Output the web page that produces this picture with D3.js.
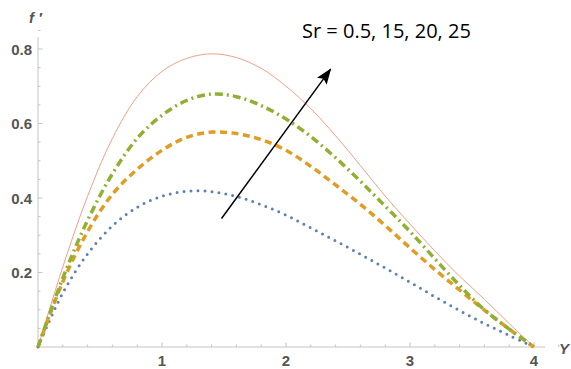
<!DOCTYPE html>
<html>
<head>
<meta charset="utf-8">
<script src="https://cdn.jsdelivr.net/npm/d3@7"></script>
<style>
  html, body { margin: 0; padding: 0; background: #fff; }
  svg { display: block; }
</style>
</head>
<body>
<svg id="chart" width="571" height="369"></svg>
<script>
// Velocity profiles f'(Y) for increasing Sr
const yGrid = [0, 0.2, 0.4, 0.6, 0.8, 1.0, 1.2, 1.4, 1.6, 1.8, 2.0, 2.2, 2.4, 2.6, 2.8, 3.0, 3.2, 3.4, 3.6, 3.8, 4.0];
const sr05 = [0, 0.145, 0.25, 0.325, 0.375, 0.405, 0.418, 0.417, 0.404, 0.382, 0.354, 0.32, 0.285, 0.249, 0.212, 0.174, 0.135, 0.098, 0.063, 0.031, 0];
const sr15 = [0, 0.175, 0.31, 0.41, 0.477, 0.528, 0.563, 0.577, 0.573, 0.557, 0.528, 0.485, 0.435, 0.383, 0.326, 0.266, 0.208, 0.153, 0.099, 0.048, 0];
const sr20 = [0, 0.185, 0.34, 0.465, 0.56, 0.622, 0.662, 0.679, 0.672, 0.648, 0.612, 0.565, 0.508, 0.445, 0.378, 0.31, 0.237, 0.165, 0.1, 0.048, 0];
const sr25 = [0, 0.215, 0.405, 0.56, 0.672, 0.74, 0.775, 0.787, 0.777, 0.748, 0.70, 0.64, 0.567, 0.487, 0.405, 0.33, 0.258, 0.19, 0.128, 0.063, 0];
const xTicks = [1, 2, 3, 4];
const yTicks = [0.2, 0.4, 0.6, 0.8];
const annotation = "Sr = 0.5, 15, 20, 25";

const svg = d3.select("#chart");
const x = d3.scaleLinear().domain([0, 4]).range([38, 534]);
const y = d3.scaleLinear().domain([0, 0.8]).range([347, 49]);

const axisColor = "#c4c4c4";
const labelColor = "#555";
const labelFont = "Liberation Sans, Arial, sans-serif";

// axis lines
svg.append("line").attr("x1", x(0)).attr("x2", 545).attr("y1", y(0)).attr("y2", y(0))
  .attr("stroke", axisColor).attr("stroke-width", 1);
svg.append("line").attr("x1", x(0)).attr("x2", x(0)).attr("y1", y(0)).attr("y2", 37)
  .attr("stroke", axisColor).attr("stroke-width", 1);

// x ticks (major + minor, pointing into the plot)
const xMinor = d3.range(0.2, 4.21, 0.2).filter(v => Math.abs(v - Math.round(v)) > 1e-6);
svg.append("g").selectAll("line").data(xMinor).join("line")
  .attr("x1", d => x(d)).attr("x2", d => x(d))
  .attr("y1", y(0)).attr("y2", y(0) - 2.5)
  .attr("stroke", axisColor);
svg.append("g").selectAll("line").data(xTicks).join("line")
  .attr("x1", d => x(d)).attr("x2", d => x(d))
  .attr("y1", y(0)).attr("y2", y(0) - 4.5)
  .attr("stroke", axisColor);
svg.append("g").selectAll("text").data(xTicks).join("text")
  .attr("x", d => x(d)).attr("y", 366)
  .attr("text-anchor", "middle")
  .attr("font-family", labelFont)
  .attr("font-weight", "bold").attr("font-size", 15)
  .attr("fill", labelColor)
  .text(d => d);

// y ticks
const yMinor = d3.range(0.05, 0.851, 0.05).filter(v => Math.abs(v / 0.2 - Math.round(v / 0.2)) > 1e-6);
svg.append("g").selectAll("line").data(yMinor).join("line")
  .attr("x1", x(0)).attr("x2", x(0) + 2.5)
  .attr("y1", d => y(d)).attr("y2", d => y(d))
  .attr("stroke", axisColor);
svg.append("g").selectAll("line").data(yTicks).join("line")
  .attr("x1", x(0)).attr("x2", x(0) + 4.5)
  .attr("y1", d => y(d)).attr("y2", d => y(d))
  .attr("stroke", axisColor);
svg.append("g").selectAll("text").data(yTicks).join("text")
  .attr("x", 32).attr("y", d => y(d) + 5.5)
  .attr("text-anchor", "end")
  .attr("font-family", labelFont)
  .attr("font-weight", "bold").attr("font-size", 15)
  .attr("fill", labelColor)
  .text(d => d.toFixed(1));

// axis labels
svg.append("text").attr("x", 29).attr("y", 23)
  .attr("font-family", labelFont)
  .attr("font-weight", "bold").attr("font-style", "italic").attr("font-size", 15)
  .attr("fill", labelColor).text("f \u2032");
svg.append("text").attr("x", 559).attr("y", 354)
  .attr("font-family", labelFont)
  .attr("font-weight", "bold").attr("font-style", "italic").attr("font-size", 15)
  .attr("fill", labelColor).text("Y");

// curves
const line = d3.line().x(d => x(d[0])).y(d => y(d[1])).curve(d3.curveCatmullRom.alpha(0.5));
const series = [
  { vals: sr25, color: "#F2A088", width: 1, dash: null, cap: "butt" },
  { vals: sr05, color: "#5E81B5", width: 3, dash: "0,7", cap: "round" },
  { vals: sr15, color: "#E19C24", width: 3.5, dash: "7,4.5", cap: "butt" },
  { vals: sr20, color: "#8FB032", width: 3.5, dash: "8,4,2,4", cap: "butt" }
];
series.forEach(s => {
  svg.append("path")
    .datum(yGrid.map((v, i) => [v, s.vals[i]]))
    .attr("d", line)
    .attr("fill", "none")
    .attr("stroke", s.color)
    .attr("stroke-width", s.width)
    .attr("stroke-linecap", s.cap)
    .attr("stroke-dasharray", s.dash);
});

// arrow showing the direction of increasing Sr
svg.append("defs").append("marker")
  .attr("id", "head").attr("viewBox", "0 0 16 12")
  .attr("refX", 15).attr("refY", 6)
  .attr("markerWidth", 16).attr("markerHeight", 12)
  .attr("markerUnits", "userSpaceOnUse")
  .attr("orient", "auto")
  .append("path").attr("d", "M0,0 L16,6 L0,12 L3,6 Z").attr("fill", "#000");
svg.append("line")
  .attr("x1", x(1.48)).attr("y1", y(0.345))
  .attr("x2", x(2.36)).attr("y2", y(0.746))
  .attr("stroke", "#000").attr("stroke-width", 1.5)
  .attr("marker-end", "url(#head)");

svg.append("text").attr("x", 302).attr("y", 38)
  .attr("font-family", "Open Sans, Liberation Sans, sans-serif")
  .attr("font-size", 20).attr("fill", "#000")
  .text(annotation);
</script>
</body>
</html>
